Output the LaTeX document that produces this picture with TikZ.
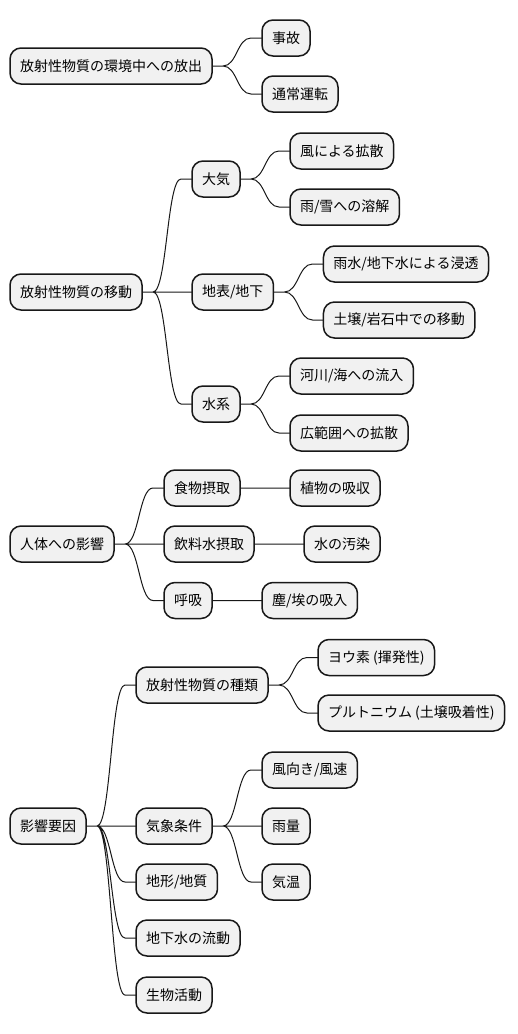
\documentclass[tikz,border=0pt]{standalone}
\usepackage{fontspec}
\setsansfont{Noto Sans CJK JP}
\usetikzlibrary{positioning}

\definecolor{boxfill}{HTML}{F1F1F1}
\definecolor{boxline}{HTML}{181818}

\tikzset{
	basic/.style  = {draw=boxline, fill=boxfill, line width=1.5pt, rounded corners=11pt,
		font=\sffamily\fontsize{14}{17}\selectfont, minimum height=36pt, inner xsep=10pt,
		inner ysep=3pt, outer sep=0pt, anchor=west},
	root/.style   = {basic},
	link/.style   = {draw=boxline, line width=1pt,
		to path={(\tikztostart.east) -- ++(11pt,0) .. controls +(14pt,0) and +(-14pt,0)
			.. ([xshift=-11pt]\tikztotarget.west) -- (\tikztotarget.west)}}
}

\begin{document}
\begin{tikzpicture}[x=1pt, y=1pt]
\useasboundingbox (0,0) rectangle (518,-1034);

% first map: release
\node[root] (a) at (10,-66) {放射性物質の環境中への放出};
\node[basic, right=50pt of a, yshift=28pt]  (a1) {事故};
\node[basic, right=50pt of a, yshift=-28pt] (a2) {通常運転};

% second map: migration
\node[root] (b) at (10,-292) {放射性物質の移動};
\node[basic, right=50pt of b, yshift=113pt]  (b1) {大気};
	\node[basic, right=50pt of b1, yshift=28pt]  (b11) {風による拡散};
	\node[basic, right=50pt of b1, yshift=-28pt] (b12) {雨/雪への溶解};
\node[basic, right=50pt of b]                (b2) {地表/地下};
	\node[basic, right=50pt of b2, yshift=28pt]  (b21) {雨水/地下水による浸透};
	\node[basic, right=50pt of b2, yshift=-28pt] (b22) {土壌/岩石中での移動};
\node[basic, right=50pt of b, yshift=-112pt] (b3) {水系};
	\node[basic, right=50pt of b3, yshift=28pt]  (b31) {河川/海への流入};
	\node[basic, right=50pt of b3, yshift=-29pt] (b32) {広範囲への拡散};

% third map: effects on the body
\node[root] (c) at (10,-544) {人体への影響};
\node[basic, right=50pt of c, yshift=56pt]    (c1) {食物摂取};
	\node[basic, right=50pt of c1] (c11) {植物の吸収};
\node[basic, right=50pt of c]                 (c2) {飲料水摂取};
	\node[basic, right=50pt of c2] (c21) {水の汚染};
\node[basic, right=50pt of c, yshift=-56.5pt] (c3) {呼吸};
	\node[basic, right=50pt of c3] (c31) {塵/埃の吸入};

% fourth map: factors
\node[root] (d) at (10,-826) {影響要因};
\node[basic, right=50pt of d, yshift=141pt]  (d1) {放射性物質の種類};
	\node[basic, right=50pt of d1, yshift=27.5pt]  (d11) {ヨウ素 (揮発性)};
	\node[basic, right=50pt of d1, yshift=-28pt]   (d12) {プルトニウム (土壌吸着性)};
\node[basic, right=50pt of d]                (d2) {気象条件};
	\node[basic, right=50pt of d2, yshift=56pt]  (d21) {風向き/風速};
	\node[basic, right=50pt of d2]               (d22) {雨量};
	\node[basic, right=50pt of d2, yshift=-56pt] (d23) {気温};
\node[basic, right=50pt of d, yshift=-56pt]  (d3) {地形/地質};
\node[basic, right=50pt of d, yshift=-112pt] (d4) {地下水の流動};
\node[basic, right=50pt of d, yshift=-169pt] (d5) {生物活動};

% connectors
\draw[link] (a) to (a1) (a) to (a2);
\draw[link] (b) to (b1) (b) to (b2) (b) to (b3)
	(b1) to (b11) (b1) to (b12) (b2) to (b21) (b2) to (b22) (b3) to (b31) (b3) to (b32);
\draw[link] (c) to (c1) (c) to (c2) (c) to (c3) (c1) to (c11) (c2) to (c21) (c3) to (c31);
\draw[link] (d) to (d1) (d) to (d2) (d) to (d3) (d) to (d4) (d) to (d5)
	(d1) to (d11) (d1) to (d12) (d2) to (d21) (d2) to (d22) (d2) to (d23);

\end{tikzpicture}
\end{document}
